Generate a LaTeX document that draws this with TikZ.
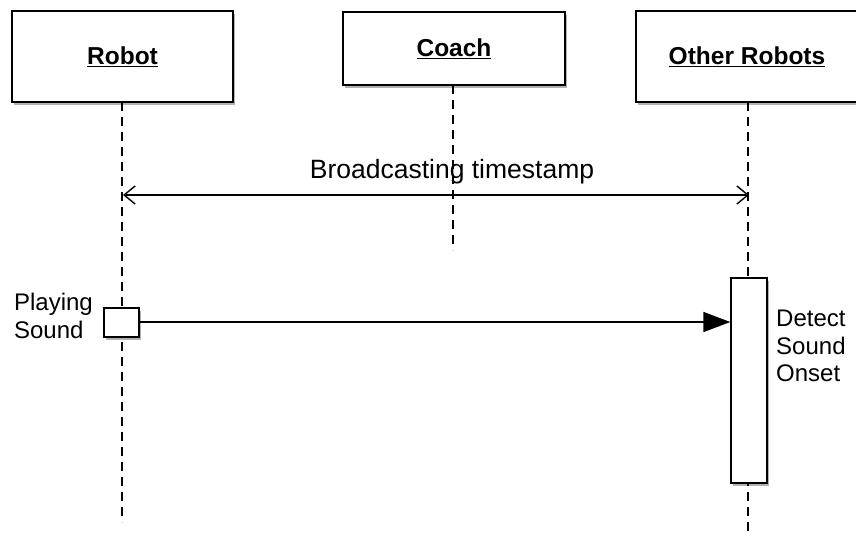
\documentclass[tikz,border=0pt]{standalone}
\usepackage{fontspec}
\setmainfont{Liberation Sans}
\usetikzlibrary{shadows,arrows.meta}
\begin{document}
\begin{tikzpicture}[x=1pt,y=-1pt,
  every node/.style={font=\fontsize{24}{27.5}\selectfont},
  shade/.style={drop shadow={shadow xshift=1.5pt,shadow yshift=-2.5pt,opacity=0.3,fill=black}},
  headbox/.style={draw,line width=1.5pt,fill=white,shade,inner sep=0pt},
  actbox/.style={draw,line width=1.3pt,fill=white,shade,inner sep=0pt},
  headtext/.style={font=\fontsize{24.5}{28}\selectfont\bfseries},
  lifeline/.style={line width=1.4pt,dash pattern=on 9pt off 6pt},
  msg/.style={line width=1.4pt}]
\useasboundingbox (0,0) rectangle (856,536);
\fill[white] (0,0) rectangle (856,536);

% lifelines
\coordinate (rtop) at (122,102);
\coordinate (rbot) at (122,522);
\coordinate (ctop) at (453,85);
\coordinate (cbot) at (453,250);
\coordinate (otop) at (748,102);
\coordinate (obot) at (748,536);
\draw[lifeline] (rtop) -- (rbot);
\draw[lifeline] (ctop) -- (cbot);
\draw[lifeline] (otop) -- (obot);

% participant heads
\node[headbox,minimum width=221pt,minimum height=91pt] (robot) at (122.5,56.5) {};
\node[headbox,minimum width=222pt,minimum height=73pt] (coach) at (454,48.5) {};
\node[headbox,minimum width=222pt,minimum height=91pt] (other) at (747,56.5) {};
\node[headtext] at (robot.center) {\underline{Robot}};
\node[headtext] at (coach.center) {\underline{Coach}};
\node[headtext] at (other.center) {\underline{Other Robots}};

% broadcast message
\coordinate (bl) at (123,195);
\coordinate (br) at (749,195);
\draw[msg,{Straight Barb[length=11pt,width=18pt,line width=1.4pt]}-{Straight Barb[length=11pt,width=18pt,line width=1.4pt]}] (bl) -- (br);
\node[font=\fontsize{26.5}{30}\selectfont] (btxt) at (452,172) {Broadcasting timestamp};

% activations
\node[actbox,minimum width=35pt,minimum height=29pt] (play) at (121.5,322.5) {};
\node[actbox,minimum width=36pt,minimum height=205pt] (detect) at (749,380.5) {};
\node[align=left,anchor=east,inner sep=0pt] (playtxt) at (93,316) {Playing\\Sound};
\node[align=left,anchor=west,inner sep=0pt] (dettxt) at (776,346) {Detect\\Sound\\Onset};

% sound message
\draw[msg,-{Triangle[length=27pt,width=20pt]}] (play.east |- 0,322) -- (detect.west |- 0,322);
\end{tikzpicture}
\end{document}
